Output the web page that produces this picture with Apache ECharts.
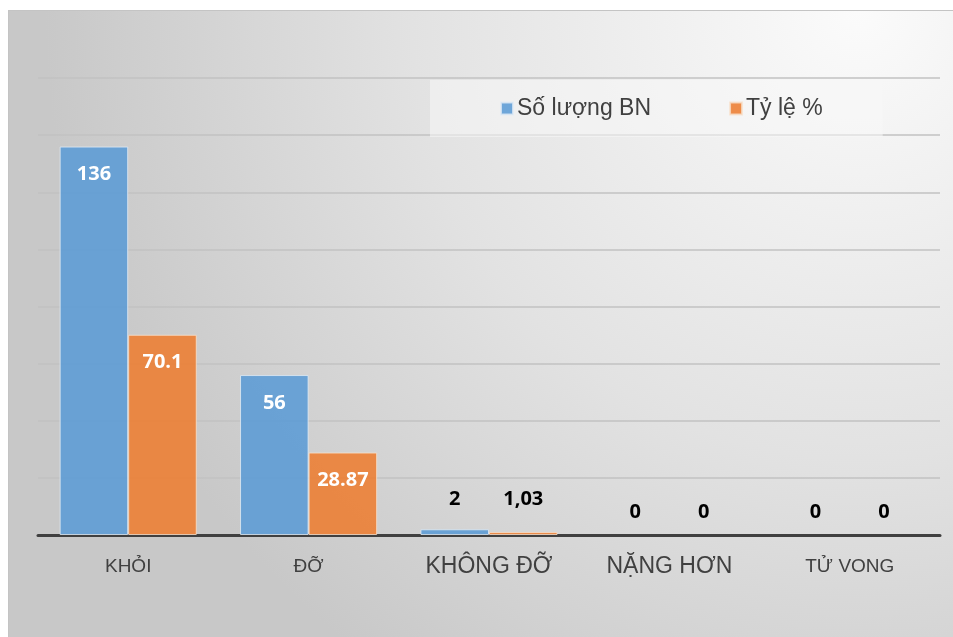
<!DOCTYPE html>
<html>
<head>
<meta charset="utf-8">
<script src="https://cdn.jsdelivr.net/npm/echarts@6/dist/echarts.min.js"></script>
<style>
    html, body { margin: 0; padding: 0; background: #fff; }
    #chart {
        position: absolute;
        left: 8px;
        top: 10px;
        width: 944px;
        height: 626px;
        border-left: 1px solid #c4c4c4;
        border-top: 1px solid #c4c4c4;
    }
</style>
</head>
<body>
<div id="chart"></div>
<script>
// dữ liệu
const categories = ["KHỎI", "ĐỠ", "KHÔNG ĐỠ", "NẶNG HƠN", "TỬ VONG"]
const catStyle = ["s", "s", "b", "b", "s"]
const soLuong = [136, 56, 2, 0, 0]
const tyLe = [70.1, 28.87, 1.03, 0, 0]
const tyLeText = ["70.1", "28.87", "1,03", "0", "0"]

const myChart = echarts.init(document.getElementById("chart"), null, { renderer: "canvas" })

const valueLabel = (text, v, smallDist) => {
    // cột cao: nhãn trắng bên trong, cột thấp: nhãn đen phía trên
    const inside = v > 10
    return {
        show: true,
        position: inside ? "insideTop" : "top",
        distance: inside ? 18 : (v > 0 ? smallDist : 13),
        formatter: text,
        color: inside ? "#fff" : "#000",
        fontFamily: "Open Sans",
        fontWeight: "bold",
        fontSize: 20,
    }
}

const barItem = (v, text, smallDist) => ({
    value: v,
    label: valueLabel(text, v, smallDist),
    // cột bằng 0 thì không vẽ viền
    itemStyle: v === 0 ? { borderWidth: 0, color: "transparent" } : undefined,
})

const option = {
    backgroundColor: {
        type: "radial",
        x: 0.9,
        y: 0,
        r: 1.3,
        colorStops: [
            { offset: 0, color: "#fbfbfb" },
            { offset: 0.55, color: "#e2e2e2" },
            { offset: 1, color: "#c8c8c8" },
        ],
    },
    animation: false,
    grid: { left: 29, right: 13, top: 67, bottom: 102 },
    legend: {
        left: 421,
        top: 69,
        padding: [17, 60, 17, 70],
        backgroundColor: "rgba(248,248,248,0.55)",
        itemWidth: 12,
        itemHeight: 12,
        itemGap: 78,
        icon: "rect",
        textStyle: { fontFamily: "Liberation Sans", fontSize: 23, color: "#404040", padding: [0, 0, 0, -1] },
        data: ["Số lượng BN", "Tỷ lệ %"],
    },
    xAxis: {
        type: "category",
        data: categories,
        axisLine: { lineStyle: { color: "#404040", width: 3 } },
        axisTick: { show: false },
        axisLabel: {
            margin: 17,
            formatter: (v, i) => `{${catStyle[i]}|${v}}`,
            rich: {
                s: { fontFamily: "Liberation Sans", fontSize: 19, color: "#404040", lineHeight: 30 },
                b: { fontFamily: "Liberation Sans", fontSize: 23, color: "#404040", lineHeight: 30 },
            },
        },
    },
    yAxis: {
        type: "value",
        min: 0,
        max: 160,
        interval: 20,
        axisLabel: { show: false },
        axisLine: { show: false },
        axisTick: { show: false },
        splitLine: { lineStyle: { color: "#c2c2c2", width: 1.5 } },
    },
    series: [
        {
            name: "Số lượng BN",
            type: "bar",
            barGap: "0%",
            barCategoryGap: "24%",
            itemStyle: { color: "rgba(91,155,213,0.88)", borderColor: "rgba(225,235,245,0.8)", borderWidth: 1 },
            data: soLuong.map((v) => barItem(v, String(v), 20)),
        },
        {
            name: "Tỷ lệ %",
            type: "bar",
            itemStyle: { color: "rgba(237,125,49,0.88)", borderColor: "rgba(248,225,205,0.8)", borderWidth: 1 },
            data: tyLe.map((v, i) => barItem(v, tyLeText[i], 23)),
        },
    ],
}
myChart.setOption(option)
</script>
</body>
</html>
